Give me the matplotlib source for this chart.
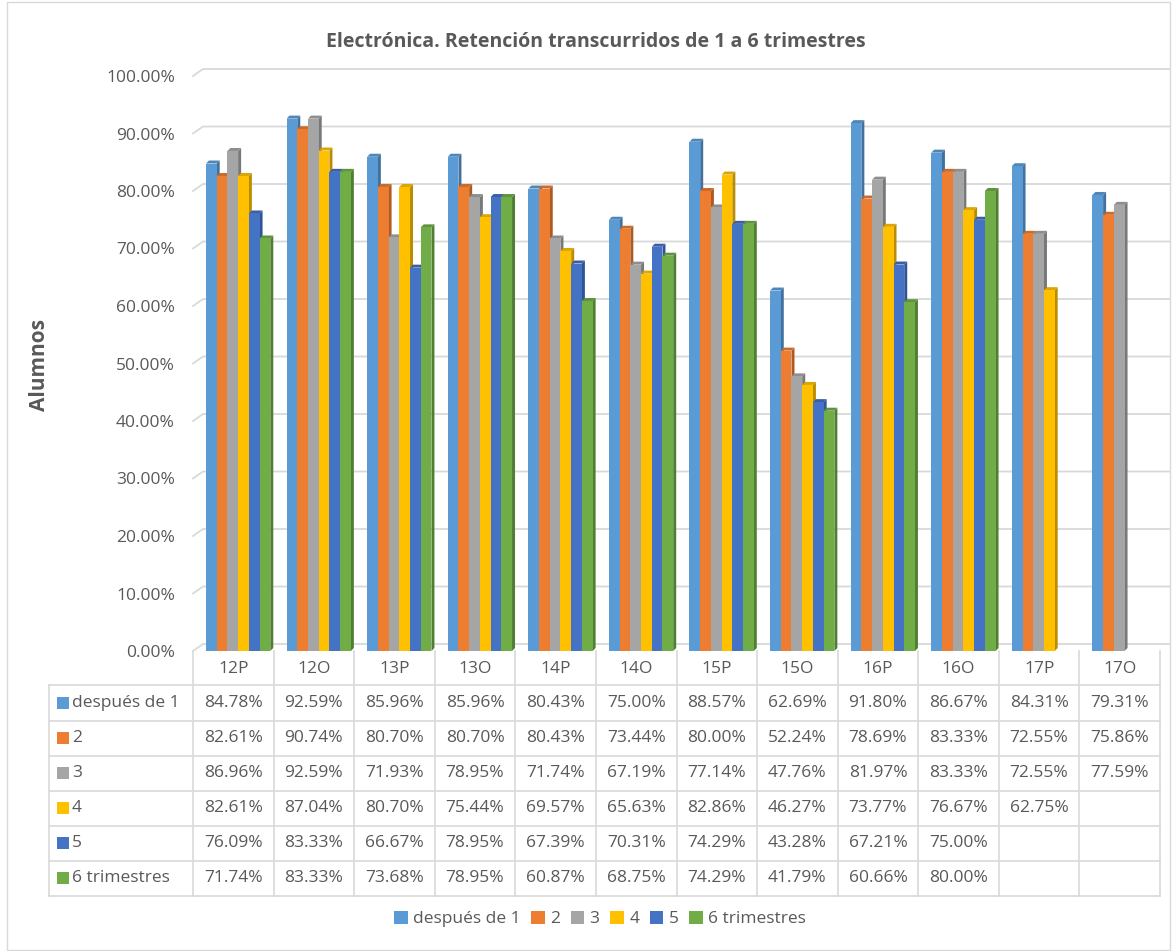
import numpy as np
import matplotlib.pyplot as plt
from matplotlib.patches import Polygon, Rectangle
from matplotlib.lines import Line2D
from matplotlib.transforms import IdentityTransform

categories = ['12P', '12O', '13P', '13O', '14P', '14O', '15P', '15O', '16P', '16O', '17P', '17O']
series_names = ['después de 1', '2', '3', '4', '5', '6 trimestres']
despues_1 = [84.78, 92.59, 85.96, 85.96, 80.43, 75.00, 88.57, 62.69, 91.80, 86.67, 84.31, 79.31]
trim_2 = [82.61, 90.74, 80.70, 80.70, 80.43, 73.44, 80.00, 52.24, 78.69, 83.33, 72.55, 75.86]
trim_3 = [86.96, 92.59, 71.93, 78.95, 71.74, 67.19, 77.14, 47.76, 81.97, 83.33, 72.55, 77.59]
trim_4 = [82.61, 87.04, 80.70, 75.44, 69.57, 65.63, 82.86, 46.27, 73.77, 76.67, 62.75, None]
trim_5 = [76.09, 83.33, 66.67, 78.95, 67.39, 70.31, 74.29, 43.28, 67.21, 75.00, None, None]
trim_6 = [71.74, 83.33, 73.68, 78.95, 60.87, 68.75, 74.29, 41.79, 60.66, 80.00, None, None]
series = [despues_1, trim_2, trim_3, trim_4, trim_5, trim_6]

colors = ['#5B9BD5', '#ED7D31', '#A5A5A5', '#FFC000', '#4472C4', '#70AD47']
sides = ['#41719C', '#AE5A21', '#787878', '#BA8C00', '#2F5597', '#507E32']
tops = ['#4F86B8', '#CC6B29', '#8E8E8E', '#DBA600', '#3A5FA6', '#5F943C']
text_col = '#595959'
grid_col = '#D9D9D9'

plt.rcParams['font.family'] = ['Open Sans', 'DejaVu Sans']

W, H = 1172, 951
fig = plt.figure(figsize=(W / 100, H / 100), dpi=100)
ident = IdentityTransform()


def dy(y):
    # image pixel row -> display y
    return H - y


fig.add_artist(Rectangle((7, 1), W - 9, H - 3, transform=ident, fill=False,
                         edgecolor=grid_col, linewidth=1))

ax = fig.add_axes([193 / W, 1 - 651 / H, (1160 - 193) / W, (651 - 76) / H])
ax.set_xlim(-0.5, len(categories) - 0.5)
ax.set_ylim(0, 100)
for s in ax.spines.values():
    s.set_visible(False)
ax.set_xticks([])
ax.set_yticks(np.arange(0, 101, 10))
ax.set_yticklabels(['%.2f%%' % v for v in np.arange(0, 101, 10)])
ax.tick_params(axis='y', length=0, pad=13, labelsize=12.5, labelcolor=text_col)
ax.patch.set_alpha(0)

# back wall gridlines with the 3D slant on the left
gx, gy = 10, 7
for v in np.arange(0, 101, 10):
    x0, y0 = ax.transData.transform((-0.5, v))
    x1, _ = ax.transData.transform((len(categories) - 0.5, v))
    fig.add_artist(Line2D([x0, x0 + gx, x1 + gx], [y0, y0 + gy, y0 + gy],
                          transform=ident, color=grid_col, linewidth=1.3, zorder=0))

# 3D-looking clustered columns
bw = 0.133
d, dz = 3, 3
for j, vals in enumerate(series):
    for i, v in enumerate(vals):
        if v is None:
            continue
        xl = i + 0.06 - 3 * bw + j * bw
        ax.bar(xl, v, bw, align='edge', color=colors[j], linewidth=0, zorder=2 * j + 2.1)
        (pxl, pyb), (pxr, pyt) = ax.transData.transform([(xl, 0), (xl + bw, v)])
        side = Polygon([(pxr, pyb), (pxr + d, pyb + dz), (pxr + d, pyt + dz), (pxr, pyt)],
                       closed=True, transform=ident, facecolor=sides[j], linewidth=0,
                       zorder=2 * j + 2, clip_on=False)
        top = Polygon([(pxl, pyt), (pxr, pyt), (pxr + d, pyt + dz), (pxl + d, pyt + dz)],
                      closed=True, transform=ident, facecolor=tops[j], linewidth=0,
                      zorder=2 * j + 2, clip_on=False)
        ax.add_artist(side)
        ax.add_artist(top)

ax.set_ylabel('Alumnos', fontsize=15, fontweight='bold', color=text_col)
ax.yaxis.set_label_coords((50 - 193) / (1160 - 193), (651 - 365) / (651 - 76))
fig.text(596 / W, 1 - 42 / H, 'Electrónica. Retención transcurridos de 1 a 6 trimestres',
         ha='center', va='center', fontsize=14, fontweight='bold', color=text_col)

# data table under the axis
col_x = [ax.transData.transform((i - 0.5, 0))[0] for i in range(len(categories) + 1)]
left_x = 49
header_top, header_bot = 651, 685
row_y = [685, 720.5, 755.5, 790.5, 825.5, 860.5, 896]
lw = 1.2
for x in col_x:
    fig.add_artist(Line2D([x, x], [dy(header_top), dy(row_y[-1])], transform=ident,
                          color=grid_col, linewidth=lw))
fig.add_artist(Line2D([left_x, left_x], [dy(row_y[0]), dy(row_y[-1])], transform=ident,
                      color=grid_col, linewidth=lw))
for y in row_y:
    fig.add_artist(Line2D([left_x, col_x[-1]], [dy(y), dy(y)], transform=ident,
                          color=grid_col, linewidth=lw))

fs = 12.5
for i, c in enumerate(categories):
    xc = (col_x[i] + col_x[i + 1]) / 2
    fig.text(xc / W, dy((header_top + header_bot) / 2 + 1) / H, c, ha='center', va='center',
             fontsize=fs, color=text_col)

for j, vals in enumerate(series):
    yc = (row_y[j] + row_y[j + 1]) / 2
    fig.add_artist(Rectangle((57, dy(yc + 6)), 12, 12, transform=ident,
                             facecolor=colors[j], linewidth=0))
    fig.text(72 / W, dy(yc) / H, series_names[j], ha='left', va='center',
             fontsize=fs, color=text_col)
    for i, v in enumerate(vals):
        if v is None:
            continue
        xc = (col_x[i] + col_x[i + 1]) / 2
        fig.text(xc / W, dy(yc) / H, '%.2f%%' % v, ha='center', va='center',
                 fontsize=fs, color=text_col)

handles = [Rectangle((0, 0), 1, 1, facecolor=c, linewidth=0) for c in colors]
fig.legend(handles, series_names, loc='center', bbox_to_anchor=(600 / W, 1 - 919 / H),
           ncol=6, frameon=False, fontsize=fs, handlelength=0.8, handleheight=0.8,
           handletextpad=0.3, columnspacing=0.6, labelcolor=text_col)

fig.savefig('out.png', dpi=100)
